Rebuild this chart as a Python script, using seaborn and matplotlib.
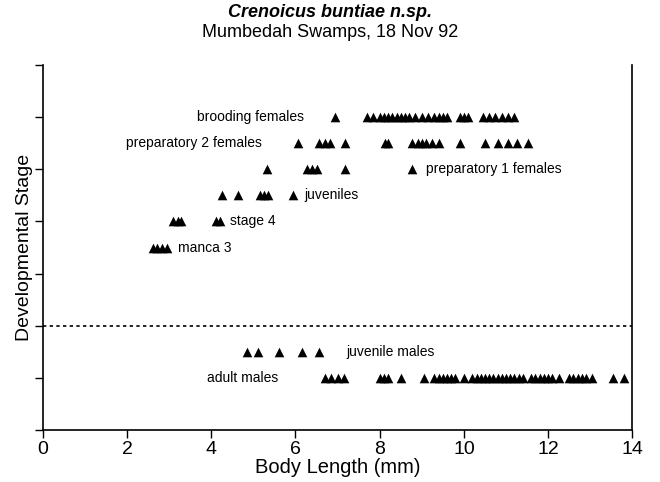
import pandas as pd
import matplotlib
matplotlib.use("Agg")
import matplotlib.pyplot as plt
import seaborn as sns

# body lengths (mm) per developmental group
brooding_females = [6.95, 7.7, 7.85, 8.0, 8.1, 8.2, 8.3, 8.4, 8.5, 8.6, 8.7, 8.85, 9.0,
                    9.15, 9.3, 9.4, 9.5, 9.6, 9.9, 10.0, 10.1, 10.45, 10.6, 10.75,
                    10.9, 11.05, 11.2]
prep2_females = [6.05, 6.55, 6.7, 6.82, 7.18, 8.12, 8.2, 8.77, 8.9, 9.0, 9.1, 9.25,
                 9.4, 9.9, 10.5, 10.8, 11.05, 11.27, 11.53]
prep1_females = [5.32, 6.27, 6.4, 6.5, 7.18, 8.77]
juveniles = [4.25, 4.64, 5.15, 5.25, 5.35, 5.94]
stage4 = [3.1, 3.2, 3.28, 4.1, 4.2]
manca3 = [2.62, 2.72, 2.82, 2.95]
juvenile_males = [4.85, 5.1, 5.6, 6.15, 6.55]
adult_males = [6.7, 6.85, 7.0, 7.15, 8.0, 8.1, 8.2, 8.5, 9.05, 9.3, 9.4, 9.5, 9.6,
               9.7, 9.8, 10.0, 10.2, 10.3, 10.4, 10.5, 10.6, 10.7, 10.8, 10.9, 11.0,
               11.1, 11.2, 11.3, 11.4, 11.6, 11.7, 11.8, 11.9, 12.0, 12.1, 12.25,
               12.5, 12.6, 12.7, 12.8, 12.9, 13.05, 13.55, 13.8]

groups = {
    "brooding females": (6.0, brooding_females),
    "preparatory 2 females": (5.5, prep2_females),
    "preparatory 1 females": (5.0, prep1_females),
    "juveniles": (4.5, juveniles),
    "stage 4": (4.0, stage4),
    "manca 3": (3.5, manca3),
    "juvenile males": (1.5, juvenile_males),
    "adult males": (1.0, adult_males),
}

rows = []
for name, (stage, lengths) in groups.items():
    for v in lengths:
        rows.append({"group": name, "stage": stage, "length": v})
df = pd.DataFrame(rows)

sns.set_style("ticks")
plt.rcParams['font.family'] = ['Liberation Sans', 'DejaVu Sans']
plt.rcParams['text.color'] = 'black'
plt.rcParams['axes.labelcolor'] = 'black'
plt.rcParams['xtick.color'] = 'black'
plt.rcParams['ytick.color'] = 'black'
plt.rcParams['axes.edgecolor'] = 'black'

fig = plt.figure(figsize=(6.6, 4.82), dpi=100)
ax = fig.add_axes([0.065, 0.108, 0.893, 0.757])

sns.scatterplot(data=df, x="length", y="stage", marker="^", s=48, color="black",
                linewidth=0, ax=ax, legend=False)

# dotted separator between females/juveniles and males
ax.axhline(2, color="black", linestyle=(0, (2, 2)), linewidth=1.2)

# group labels
label_pos = [
    ("brooding females", 6.2, 6.0, "right"),
    ("preparatory 2 females", 5.2, 5.5, "right"),
    ("preparatory 1 females", 9.1, 5.0, "left"),
    ("juveniles", 6.2, 4.5, "left"),
    ("stage 4", 4.45, 4.0, "left"),
    ("manca 3", 3.2, 3.5, "left"),
    ("juvenile males", 7.2, 1.5, "left"),
    ("adult males", 3.9, 1.0, "left"),
]
for txt, x, y, ha in label_pos:
    ax.text(x, y, txt, ha=ha, va="center", fontsize=10)

ax.set_xlim(0, 14)
ax.set_ylim(0, 7)
ax.set_xticks([0, 2, 4, 6, 8, 10, 12, 14])
ax.set_yticks(range(0, 8))
ax.set_yticklabels([])
ax.tick_params(axis="both", direction="out", length=6, width=1, labelsize=14, pad=2)
ax.set_xlabel("Body Length (mm)", fontsize=14.5, labelpad=0)
ax.set_ylabel("Developmental Stage", fontsize=14, labelpad=-1)
for side in ["left", "bottom", "right"]:
    ax.spines[side].set_linewidth(1.2)
ax.spines["top"].set_visible(False)

fig.text(0.5, 0.975, "Crenoicus buntiae n.sp.", ha="center", va="center",
         fontsize=13, fontweight="bold", fontstyle="italic")
fig.text(0.5, 0.933, "Mumbedah Swamps, 18 Nov 92", ha="center", va="center",
         fontsize=13)

fig.savefig("out.png", dpi=100)
